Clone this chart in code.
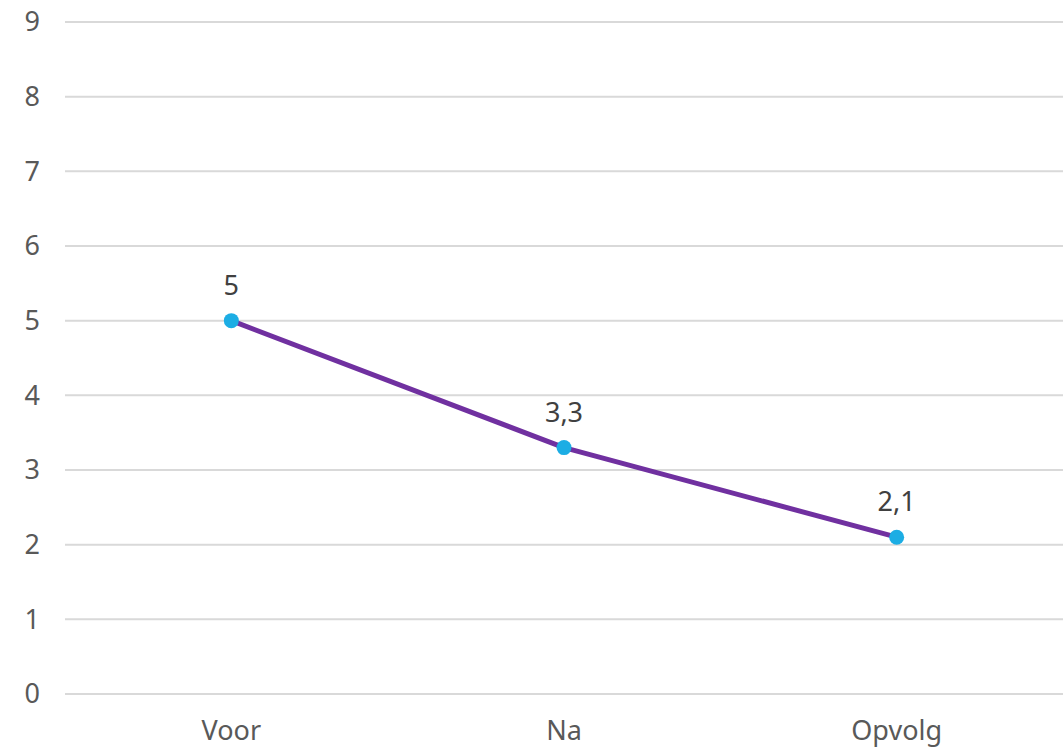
<!DOCTYPE html>
<html>
<head>
<meta charset="utf-8">
<script src="https://cdn.jsdelivr.net/npm/d3@7"></script>
<style>
  body { margin: 0; background: #fff; }
  text { font-family: "Noto Sans", "Open Sans", sans-serif; }
</style>
</head>
<body>
<div class="canvas"></div>
<script>
const categories = ["Voor", "Na", "Opvolg"];
const values = [5, 3.3, 2.1];
const yTicks = [0, 1, 2, 3, 4, 5, 6, 7, 8, 9];

const dims = { width: 1063, height: 747 };
const margin = { top: 22, right: 0, bottom: 53, left: 65 };

const svg = d3
  .select(".canvas")
  .append("svg")
  .attr("width", dims.width)
  .attr("height", dims.height);

const x = d3
  .scaleBand()
  .domain(categories)
  .range([margin.left, dims.width - margin.right]);

const y = d3
  .scaleLinear()
  .domain([0, 9])
  .range([dims.height - margin.bottom, margin.top]);

// gridlines
svg
  .append("g")
  .selectAll("line")
  .data(yTicks)
  .join("line")
  .attr("x1", margin.left)
  .attr("x2", dims.width - margin.right)
  .attr("y1", (d) => y(d))
  .attr("y2", (d) => y(d))
  .attr("stroke", "#d9d9d9")
  .attr("stroke-width", 2);

// y labels
svg
  .append("g")
  .selectAll("text")
  .data(yTicks)
  .join("text")
  .attr("x", 40)
  .attr("y", (d) => y(d))
  .attr("dy", "0.35em")
  .attr("text-anchor", "end")
  .attr("font-size", 27)
  .attr("fill", "#595959")
  .text((d) => d);

// x labels
svg
  .append("g")
  .selectAll("text")
  .data(categories)
  .join("text")
  .attr("x", (d) => x(d) + x.bandwidth() / 2)
  .attr("y", y(0) + 46)
  .attr("text-anchor", "middle")
  .attr("font-size", 27)
  .attr("fill", "#595959")
  .text((d) => d);

const points = categories.map((c, i) => ({ cat: c, value: values[i] }));

const line = d3
  .line()
  .x((d) => x(d.cat) + x.bandwidth() / 2)
  .y((d) => y(d.value));

svg
  .append("path")
  .datum(points)
  .attr("d", line)
  .attr("fill", "none")
  .attr("stroke", "#7030a0")
  .attr("stroke-width", 5)
  .attr("stroke-linejoin", "round");

svg
  .append("g")
  .selectAll("circle")
  .data(points)
  .join("circle")
  .attr("cx", (d) => x(d.cat) + x.bandwidth() / 2)
  .attr("cy", (d) => y(d.value))
  .attr("r", 7.5)
  .attr("fill", "#1cade4");

// data labels
svg
  .append("g")
  .selectAll("text")
  .data(points)
  .join("text")
  .attr("x", (d) => x(d.cat) + x.bandwidth() / 2)
  .attr("y", (d) => y(d.value) - 26)
  .attr("text-anchor", "middle")
  .attr("font-size", 27)
  .attr("fill", "#404040")
  .text((d) => String(d.value).replace(".", ","));
</script>
</body>
</html>
